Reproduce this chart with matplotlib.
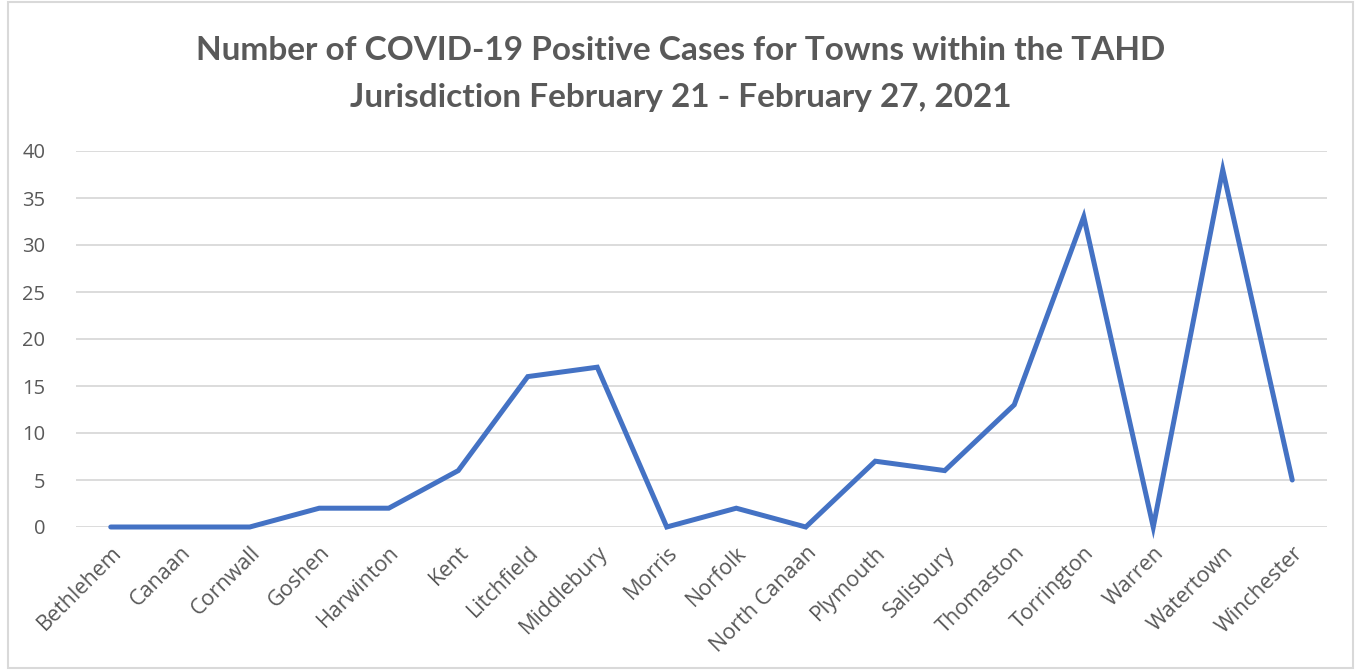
import matplotlib.pyplot as plt
from matplotlib.patches import Rectangle

towns = ["Bethlehem", "Canaan", "Cornwall", "Goshen", "Harwinton", "Kent",
         "Litchfield", "Middlebury", "Morris", "Norfolk", "North Canaan",
         "Plymouth", "Salisbury", "Thomaston", "Torrington", "Warren",
         "Watertown", "Winchester"]
cases = [0, 0, 0, 2, 2, 6, 16, 17, 0, 2, 0, 7, 6, 13, 33, 0, 38, 5]
yticks = [0, 5, 10, 15, 20, 25, 30, 35, 40]

gray = "#595959"
plt.rcParams['font.family'] = ['Open Sans', 'DejaVu Sans']

fig = plt.figure(figsize=(13.56, 6.70), dpi=100)
ax = fig.add_axes([76/1356, (670-527)/670, (1327-76)/1356, (527-151)/670])

x = list(range(len(towns)))
ax.plot(x, cases, color="#4472C4", lw=3.6, solid_joinstyle="miter",
        solid_capstyle="round", clip_on=False, zorder=3)

ax.set_xlim(-0.5, len(towns) - 0.5)
ax.set_ylim(0, 40)
ax.set_yticks(yticks)
ax.set_yticklabels([str(v) for v in yticks], color=gray, fontsize=14.5)
ax.set_xticks(x)
ax.set_xticklabels(towns, rotation=45, ha="right", rotation_mode="anchor",
                   color=gray, fontsize=15.5)
ax.tick_params(axis="both", length=0)
ax.tick_params(axis="y", pad=22)
ax.tick_params(axis="x", pad=11)
ax.grid(axis="y", color="#d9d9d9", lw=1.3)
ax.set_axisbelow(True)
for s in ax.spines.values():
    s.set_visible(False)

# two-line title, Calibri-like look
fig.text(0.502, 1 - 50/670,
         "Number of COVID-19 Positive Cases for Towns within the TAHD",
         ha="center", va="center", fontsize=24, fontweight="bold", color=gray,
         family=["Lato", "DejaVu Sans"])
fig.text(0.502, 1 - 97/670,
         "Jurisdiction February 21 - February 27, 2021",
         ha="center", va="center", fontsize=24, fontweight="bold", color=gray,
         family=["Lato", "DejaVu Sans"])

fig.patches.append(Rectangle((8/1356, 2/670), 1345/1356, 666/670,
                             transform=fig.transFigure, fill=False,
                             edgecolor="#d9d9d9", lw=1.5))

fig.savefig("out.png", dpi=100)
